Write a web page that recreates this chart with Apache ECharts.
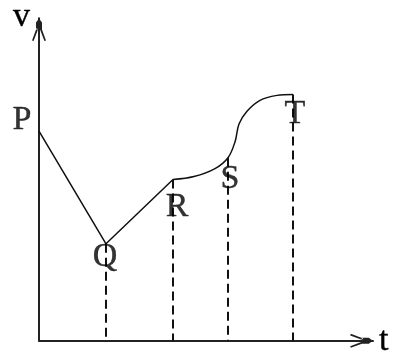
<!DOCTYPE html>
<html>
<head>
<meta charset="utf-8">
<script src="https://cdn.jsdelivr.net/npm/echarts@6/dist/echarts.min.js"></script>
<style>
  html, body { margin: 0; padding: 0; background: #fff; }
  #chart { width: 394px; height: 358px; }
</style>
</head>
<body>
<div id="chart"></div>
<script>
// Named points on the v–t graph (time, speed), arbitrary units
const pointNames = ['P', 'Q', 'R', 'S', 'T'];
const pointT = [0, 67, 134, 189, 254];
const pointV = [212, 98, 163, 185, 249];

// Curved stretch from R through S up to T
const curveT = [134, 155, 176, 189, 196, 200, 208, 221, 238, 254];
const curveV = [163, 166, 174, 185, 201, 219, 232, 243, 248, 249];

// Axis extents and names
const tMax = 334;
const vMax = 326;
const tName = 't';
const vName = 'v';

// Label placement around each point (pixels)
const labelOffset = { P: [-17, -11], Q: [-1, 13], R: [4, 28], S: [2, 21], T: [2, 20] };

const ink = '#000';
const serif = '"Liberation Serif", "DejaVu Serif", serif';
const letterStyle = { fontFamily: serif, fontSize: 34, color: ink, textBorderColor: ink, textBorderWidth: 0.4 };
// Open arrow head with a small solid tip, pointing up
const arrowPath = 'path://M7 0 L10 4 L10 11 L4 11 L4 4 Z M4.6 9.5 L0 22 L1.6 22.6 L6 11 Z M9.4 9.5 L14 22 L12.4 22.6 L8 11 Z';

const straightPart = [0, 1, 2].map(i => [pointT[i], pointV[i]]);
const curvePart = curveT.map((t, i) => [t, curveV[i]]);
const drops = [1, 2, 3, 4].map(i => [
  { coord: [pointT[i], pointV[i]] },
  { coord: [pointT[i], 0] }
]);
const labelled = pointNames.map((n, i) => ({
  name: n,
  value: [pointT[i], pointV[i]],
  label: { offset: labelOffset[n] }
}));

const axisLineCommon = {
  show: true,
  symbol: ['none', arrowPath],
  symbolSize: [14, 23],
  symbolOffset: [0, -11.5],
  lineStyle: { color: '#222', width: 2 }
};

const chart = echarts.init(document.getElementById('chart'), null, { renderer: 'canvas' });
chart.setOption({
  animation: false,
  backgroundColor: '#fff',
  grid: { left: 39, top: 15, right: 21, bottom: 17, containLabel: false },
  xAxis: {
    type: 'value', min: 0, max: tMax,
    name: tName, nameLocation: 'end', nameGap: 6,
    nameTextStyle: Object.assign({}, letterStyle, { verticalAlign: 'middle', padding: [0, 0, 9, 0] }),
    axisLine: axisLineCommon,
    axisTick: { show: false }, axisLabel: { show: false }, splitLine: { show: false }
  },
  yAxis: {
    type: 'value', min: 0, max: vMax,
    name: vName, nameLocation: 'end', nameGap: 1,
    nameTextStyle: Object.assign({}, letterStyle, { align: 'right', verticalAlign: 'middle', padding: [0, 9, 0, 0] }),
    axisLine: axisLineCommon,
    axisTick: { show: false }, axisLabel: { show: false }, splitLine: { show: false }
  },
  series: [
    {
      type: 'line',
      data: straightPart,
      symbol: 'none',
      lineStyle: { color: '#111', width: 1.5 },
      markLine: {
        silent: true,
        symbol: ['none', 'none'],
        label: { show: false },
        lineStyle: { color: '#111', width: 2, type: [9, 5] },
        data: drops
      }
    },
    {
      type: 'line',
      data: curvePart,
      symbol: 'none',
      smooth: 0.35,
      lineStyle: { color: '#111', width: 1.5 }
    },
    {
      type: 'scatter',
      data: labelled,
      symbolSize: 0,
      silent: true,
      z: 5,
      label: Object.assign({
        show: true,
        position: 'inside',
        formatter: p => p.name
      }, letterStyle)
    }
  ]
});
</script>
</body>
</html>
